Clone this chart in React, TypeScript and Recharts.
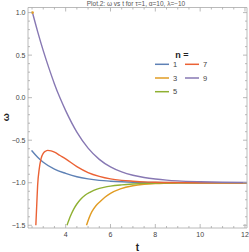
import React from 'react';
import { LineChart, Line, XAxis, YAxis, Legend, ReferenceDot } from 'recharts';

type P = { t: number; w: number };
const mk = (a: number[][]): P[] => a.map(([t, w]) => ({ t, w }));

const n1 = mk([[2.48,-0.62],[2.75,-0.7],[3.0,-0.76],[3.5,-0.84],[4.0,-0.89],[4.5,-0.93],[5.0,-0.955],[5.5,-0.972],[6.0,-0.982],[6.5,-0.989],[7.0,-0.994],[8.0,-0.998],[9.0,-1.0],[12.1,-1.0]]);
const n3 = mk([[4.93,-1.5],[5.05,-1.41],[5.17,-1.34],[5.35,-1.27],[5.54,-1.22],[5.75,-1.17],[6.0,-1.125],[6.44,-1.072],[7.0,-1.035],[7.5,-1.018],[8.0,-1.009],[9.0,-1.002],[10.0,-1.0],[12.1,-1.0]]);
const n5 = mk([[4.06,-1.5],[4.2,-1.4],[4.36,-1.31],[4.5,-1.25],[4.65,-1.2],[4.85,-1.15],[5.1,-1.11],[5.4,-1.075],[5.7,-1.055],[6.0,-1.04],[6.5,-1.025],[7.0,-1.015],[7.5,-1.008],[8.0,-1.005],[9.0,-1.001],[12.1,-1.0]]);
const n7 = mk([[2.67,-1.5],[2.72,-1.2],[2.75,-1.03],[2.82,-0.84],[2.9,-0.72],[3.0,-0.655],[3.1,-0.63],[3.2,-0.62],[3.35,-0.625],[3.5,-0.64],[3.75,-0.68],[4.0,-0.72],[4.5,-0.81],[5.0,-0.88],[5.5,-0.925],[6.0,-0.955],[6.5,-0.972],[7.0,-0.982],[7.5,-0.99],[8.0,-0.994],[9.0,-0.998],[10.0,-1.0],[12.1,-1.0]]);
const n9 = mk([[2.52,1.0],[2.75,0.777],[3.0,0.553],[3.25,0.35],[3.5,0.162],[3.75,-0.005],[4.0,-0.152],[4.5,-0.405],[5.0,-0.593],[5.5,-0.725],[6.0,-0.814],[6.5,-0.873],[7.0,-0.912],[7.5,-0.938],[8.0,-0.956],[8.5,-0.969],[9.0,-0.978],[10.0,-0.988],[11.0,-0.994],[12.1,-0.997]]);

const seriesNames = ['1', '3', '5', '7', '9'];
const seriesData = [n1, n3, n5, n7, n9];
const seriesColors = ['#5E81B5', '#E19C24', '#8FB032', '#EB6235', '#8778B3'];

const markerPoint = { t: 2.52, w: 1.0 };

const xTicks = [2.5,3,3.5,4,4.5,5,5.5,6,6.5,7,7.5,8,8.5,9,9.5,10,10.5,11,11.5,12];
const xMajor = [4,6,8,10,12];
const yTicks = [-1.5,-1.4,-1.3,-1.2,-1.1,-1.0,-0.9,-0.8,-0.7,-0.6,-0.5,-0.4,-0.3,-0.2,-0.1,0,0.1,0.2,0.3,0.4,0.5,0.6,0.7,0.8,0.9,1.0];
const yMajor = [-1.5,-1.0,-0.5,0,0.5,1.0];
const xDomain = [2.32, 12.09];
const yDomain = [-1.532, 1.06];

const title = 'Plot.2: ω vs t for τ=1, α=10, λ=−10';

const FRAME = '#a8a8a8';
const LABEL = '#444';
const FONT = '"Liberation Sans", Arial, sans-serif';

const isIn = (arr: number[], v: number) => arr.some((m) => Math.abs(m - v) < 1e-6);
const fmtY = (v: number) => v.toFixed(1).replace('-', '−');

const BottomTick = (p: any) => {
  const major = isIn(xMajor, p.payload.value);
  return (
    <g>
      <line x1={p.x} y1={p.y} x2={p.x} y2={p.y - (major ? 4 : 2)} stroke={FRAME} strokeWidth={0.8} />
      {major && (
        <text x={p.x} y={p.y + 9} textAnchor="middle" fontSize={7} fill={LABEL} fontFamily={FONT}>
          {p.payload.value}
        </text>
      )}
    </g>
  );
};
const TopTick = (p: any) => {
  const major = isIn(xMajor, p.payload.value);
  return <line x1={p.x} y1={p.y} x2={p.x} y2={p.y + (major ? 4 : 2)} stroke={FRAME} strokeWidth={0.8} />;
};
const LeftTick = (p: any) => {
  const major = isIn(yMajor, p.payload.value);
  return (
    <g>
      <line x1={p.x} y1={p.y} x2={p.x + (major ? 4 : 2)} y2={p.y} stroke={FRAME} strokeWidth={0.8} />
      {major && (
        <text x={p.x - 2.5} y={p.y + 2.5} textAnchor="end" fontSize={7} fill={LABEL} fontFamily={FONT}>
          {fmtY(p.payload.value)}
        </text>
      )}
    </g>
  );
};
const RightTick = (p: any) => {
  const major = isIn(yMajor, p.payload.value);
  return <line x1={p.x} y1={p.y} x2={p.x - (major ? 4 : 2)} y2={p.y} stroke={FRAME} strokeWidth={0.8} />;
};

const renderLegend = (props: any) => {
  const items = props.payload || [];
  return (
    <svg width={100} height={60} style={{ overflow: 'visible', display: 'block' }}>
      <text x={32} y={12.5} textAnchor="middle" fontSize={9} fontWeight="bold" fill="#222" fontFamily={FONT}>
        n =
      </text>
      {items.map((it: any, i: number) => {
        const col = i < 3 ? 0 : 1;
        const row = i < 3 ? i : i - 3;
        const x0 = 5 + col * 30;
        const yc = 19.3 + row * 13.7;
        return (
          <g key={i}>
            <line x1={x0} y1={yc} x2={x0 + 14} y2={yc} stroke={it.color} strokeWidth={1.5} />
            <text x={x0 + 18} y={yc + 2.6} fontSize={7.5} fill={LABEL} fontFamily={FONT}>
              {it.value}
            </text>
          </g>
        );
      })}
    </svg>
  );
};

export default function App() {
  return (
    <div style={{ position: 'absolute', left: 0, top: 0, width: 249, height: 252, background: '#fff' }}>
      <LineChart width={249} height={252} margin={{ top: 0, right: 0, bottom: 0, left: 0 }}>
        <XAxis
          dataKey="t"
          type="number"
          domain={xDomain}
          allowDataOverflow
          ticks={xTicks}
          interval={0}
          height={24}
          tickSize={0}
          tickMargin={0}
          tickLine={false}
          axisLine={{ stroke: FRAME, strokeWidth: 0.8 }}
          tick={<BottomTick />}
          label={{
            content: (lp: any) => {
              const vb = lp.viewBox;
              return (
                <text x={vb.x + vb.width / 2} y={251} textAnchor="middle" fontSize={10} fontWeight="bold" fill="#222" fontFamily={FONT}>
                  t
                </text>
              );
            },
          }}
        />
        <XAxis
          xAxisId="top"
          orientation="top"
          type="number"
          dataKey="t"
          domain={xDomain}
          allowDataOverflow
          ticks={xTicks}
          interval={0}
          height={7.5}
          tickSize={0}
          tickMargin={0}
          tickLine={false}
          axisLine={{ stroke: FRAME, strokeWidth: 0.8 }}
          tick={<TopTick />}
          label={{
            content: (lp: any) => {
              const vb = lp.viewBox;
              return (
                <text x={vb.x + vb.width / 2 - 1.5} y={6} textAnchor="middle" fontSize={6.5} fill="#555" fontFamily={FONT}>
                  {title}
                </text>
              );
            },
          }}
        />
        <YAxis
          type="number"
          domain={yDomain}
          allowDataOverflow
          ticks={yTicks}
          interval={0}
          width={28}
          tickSize={0}
          tickMargin={0}
          tickLine={false}
          axisLine={{ stroke: FRAME, strokeWidth: 0.8 }}
          tick={<LeftTick />}
          label={{
            content: (lp: any) => {
              const vb = lp.viewBox;
              const cy = vb.y + vb.height / 2 - 0.5;
              return (
                <text x={9} y={cy} transform={`rotate(-90, 9, ${cy})`} textAnchor="middle" fontSize={9.5} fontWeight="bold" fill="#222" fontFamily={FONT}>
                  ω
                </text>
              );
            },
          }}
        />
        <YAxis
          yAxisId="right"
          orientation="right"
          type="number"
          domain={yDomain}
          allowDataOverflow
          ticks={yTicks}
          interval={0}
          width={2}
          tickSize={0}
          tickMargin={0}
          tickLine={false}
          axisLine={{ stroke: FRAME, strokeWidth: 0.8 }}
          tick={<RightTick />}
        />
        {seriesData.map((d, i) => (
          <Line
            key={seriesNames[i]}
            data={d}
            dataKey="w"
            name={seriesNames[i]}
            type="monotone"
            stroke={seriesColors[i]}
            strokeWidth={1.4}
            dot={false}
            isAnimationActive={false}
          />
        ))}
        <ReferenceDot x={markerPoint.t} y={markerPoint.w} r={1.4} fill="#E19C24" stroke="none" />
        <Legend
          layout="horizontal"
          verticalAlign="middle"
          align="center"
          content={renderLegend}
          wrapperStyle={{ left: 150, top: 45, width: 100, height: 60 }}
        />
      </LineChart>
    </div>
  );
}
